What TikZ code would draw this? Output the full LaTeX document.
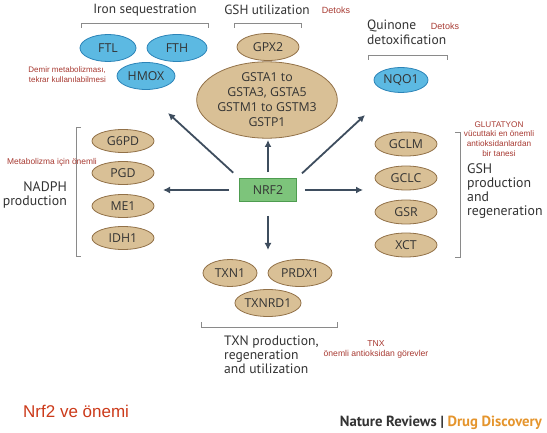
\documentclass[tikz,border=0pt]{standalone}
\usepackage{fontspec}
\setmainfont{PT Sans}
\newfontfamily\arial{Liberation Sans}
\newfontfamily\genefont{Open Sans}
\usetikzlibrary{shapes.geometric,arrows.meta}
\definecolor{tanfill}{HTML}{D9C096}
\definecolor{tanline}{HTML}{927148}
\definecolor{bluefill}{HTML}{5CB9E2}
\definecolor{blueline}{HTML}{2C84B8}
\definecolor{grfill}{HTML}{7DC47B}
\definecolor{grline}{HTML}{4E9C50}
\definecolor{arrc}{HTML}{3E4D5E}
\definecolor{txt}{HTML}{333333}
\definecolor{notec}{HTML}{A83A32}
\definecolor{brk}{HTML}{8A8A8A}
\definecolor{nrfred}{HTML}{CC3A1A}
\definecolor{ddorange}{HTML}{E5952D}
\begin{document}
\begin{tikzpicture}[x=1pt,y=-1pt,
  gene/.style={ellipse,draw=tanline,fill=tanfill,line width=0.8pt,inner sep=0pt,text=txt,font=\genefont\fontsize{12.3}{15}\selectfont},
  bgene/.style={gene,draw=blueline,fill=bluefill},
  ttl/.style={text=txt,font=\fontsize{13.3}{15}\selectfont,inner sep=0pt},
  notet/.style={text=notec,font=\arial\fontsize{8}{9.8}\selectfont,inner sep=0pt},
  brack/.style={draw=brk,line width=0.7pt},
  arr/.style={draw=arrc,line width=1.8pt,-{Latex[length=7pt,width=7pt]}}]
\fill[white] (0,0) rectangle (547,433);
\useasboundingbox (0,0) rectangle (547,433);

% Iron sequestration
\node[ttl] (tiron) at (145,10) {Iron sequestration};
\draw[brack] (81,28) -- (81,23) -- (208,23) -- (208,28);
\node[bgene,minimum width=56pt,minimum height=27pt] (ftl) at (108,48) {FTL};
\node[bgene,minimum width=60pt,minimum height=27pt] (fth) at (177,48) {FTH};
\node[bgene,minimum width=58pt,minimum height=27pt] (hmox) at (146,76) {HMOX};
\node[notet,align=right,anchor=east] (nIron) at (106,75) {Demir metabolizması,\\tekrar kullanılabilmesi};

% GSH utilization
\node[ttl] (tgsh) at (267,10) {GSH utilization};
\node[notet,font=\arial\fontsize{9}{10}\selectfont] (dtk1) at (336,10) {Detoks};
\draw[brack] (234,28) -- (234,23) -- (301,23) -- (301,28);
\node[gene,minimum width=62pt,minimum height=27pt] (gpx2) at (268,47) {GPX2};
\node[gene,align=center,minimum width=120pt,minimum height=70pt] (gst) at (267,100) {GSTA1 to\\GSTA3, GSTA5\\GSTM1 to GSTM3\\GSTP1};

% Quinone
\node[ttl,align=left,anchor=north west,font=\fontsize{13.5}{15}\selectfont] (tq) at (367,20) {Quinone\\detoxification};
\node[notet,font=\arial\fontsize{9}{10}\selectfont] (dtk2) at (445,26) {Detoks};
\draw[brack] (368,60) -- (368,55) -- (447,55) -- (447,60);
\node[bgene,minimum width=54pt,minimum height=25pt] (nqo1) at (401,80) {NQO1};

% NADPH
\draw[brack] (81,127) -- (76,127) -- (76,256) -- (81,256);
\node[gene,minimum width=62pt,minimum height=23pt] (g6pd) at (123,141) {G6PD};
\node[gene,minimum width=62pt,minimum height=23pt] (pgd) at (123,173) {PGD};
\node[gene,minimum width=62pt,minimum height=23pt] (me1) at (123,206) {ME1};
\node[gene,minimum width=62pt,minimum height=23pt] (idh1) at (123,238) {IDH1};
\node[ttl,align=right,anchor=east,font=\fontsize{13.8}{14}\selectfont] (tnadph) at (67,195) {NADPH\\production};
\node[notet,anchor=west,font=\arial\fontsize{8.4}{9.8}\selectfont] (nmet) at (7,162) {Metabolizma için önemli};

% GSH production
\draw[brack] (455,132) -- (460,132) -- (460,257) -- (455,257);
\node[gene,minimum width=62pt,minimum height=24pt] (gclm) at (406,144) {GCLM};
\node[gene,minimum width=62pt,minimum height=24pt] (gclc) at (406,178) {GCLC};
\node[gene,minimum width=62pt,minimum height=24pt] (gsr) at (406,212) {GSR};
\node[gene,minimum width=62pt,minimum height=24pt] (xct) at (406,245) {XCT};
\node[ttl,align=left,anchor=north west,font=\fontsize{13.8}{14}\selectfont] (tgshp) at (467,163) {GSH\\production\\and\\regeneration};
\node[notet,align=center,font=\arial\fontsize{8.2}{9.8}\selectfont] (nglu) at (499,139) {GLUTATYON\\vücuttaki en önemli\\antioksidanlardan\\bir tanesi};

% TXN
\node[gene,minimum width=54pt,minimum height=27pt] (txn1) at (230,273) {TXN1};
\node[gene,minimum width=64pt,minimum height=27pt] (prdx1) at (300,273) {PRDX1};
\node[gene,minimum width=64pt,minimum height=27pt] (txnrd1) at (268,303) {TXNRD1};
\draw[brack] (201,322) -- (201,327) -- (337,327) -- (337,322);
\node[ttl,align=left,anchor=north west,font=\fontsize{13.6}{14}\selectfont] (ttxn) at (224,336) {TXN production,\\regeneration\\and utilization};
\node[notet,align=center,font=\arial\fontsize{8.6}{10}\selectfont] (ntnx) at (376,349) {TNX\\önemli antioksidan görevler};

% NRF2 and arrows
\node[draw=grline,fill=grfill,line width=0.8pt,minimum width=57pt,minimum height=23pt,inner sep=0pt,text=txt,font=\genefont\fontsize{12.3}{15}\selectfont] (nrf2) at (268,190) {NRF2};
\coordinate (eL) at (163,190);
\coordinate (eR) at (363,190);
\coordinate (eD) at (268,250);
\coordinate (eU) at (268,140);
\coordinate (eUL) at (168,113);
\coordinate (eUR) at (365,115);
\draw[arr,shorten <=10pt] (nrf2.west) -- (eL);
\draw[arr,shorten <=8pt] (nrf2.east) -- (eR);
\draw[arr,shorten <=14pt] (nrf2.south) -- (eD);
\draw[arr,shorten <=6pt] (nrf2.north) -- (eU);
\draw[arr,shorten <=8pt] (nrf2.north west) -- (eUL);
\draw[arr,shorten <=7pt] (nrf2.north east) -- (eUR);

% footer
\node[anchor=base west,inner sep=0pt,text=nrfred,font=\arial\fontsize{17}{19}\selectfont] (ttl2) at (23,417) {Nrf2 ve önemi};
\node[anchor=base east,inner sep=0pt,font=\bfseries\fontsize{14.7}{16}\selectfont] (nr) at (542,426) {\textcolor{txt}{Nature Reviews} \textcolor{txt}{|} \textcolor{ddorange}{Drug Discovery}};
\end{tikzpicture}
\end{document}
